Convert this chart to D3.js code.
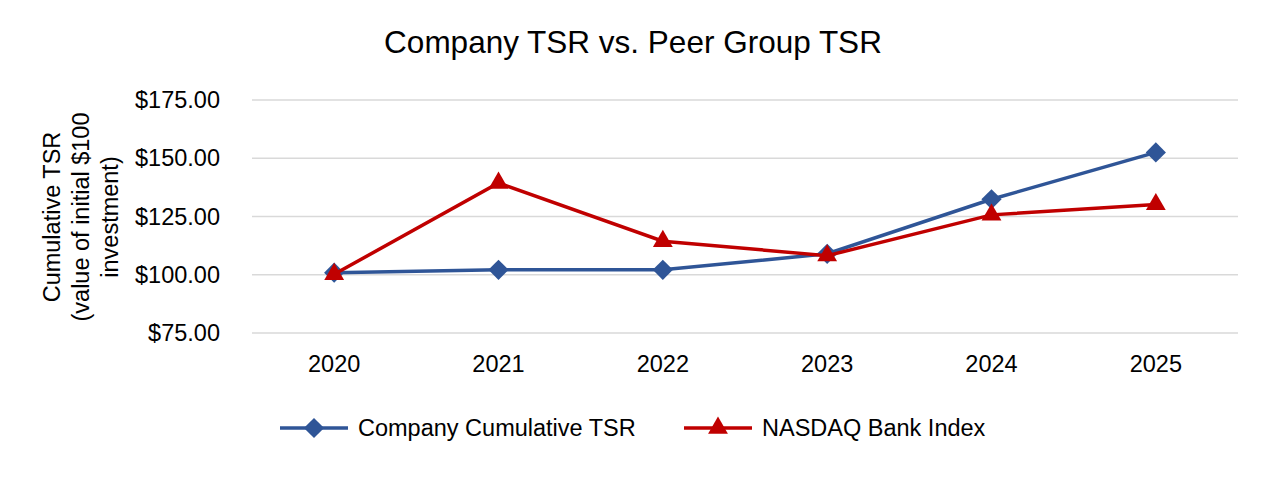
<!DOCTYPE html>
<html>
<head>
<meta charset="utf-8">
<script src="https://cdn.jsdelivr.net/npm/d3@7"></script>
<style>
  body { margin: 0; background: #fff; }
  text { font-family: "Liberation Sans", Arial, sans-serif; fill: #000; }
</style>
</head>
<body>
<div id="chart"></div>
<script>
// data
var years = ["2020", "2021", "2022", "2023", "2024", "2025"];
var companyTSR = [100.9, 102.1, 102.1, 109.0, 132.4, 152.5];
var nasdaqBank = [100.2, 139.4, 114.4, 108.2, 125.7, 130.2];
var yTicks = [75, 100, 125, 150, 175];
var seriesNames = ["Company Cumulative TSR", "NASDAQ Bank Index"];

var svgWidth = 1266;
var svgHeight = 480;

var margin = { top: 100, right: 28, bottom: 147, left: 252 };
var width = svgWidth - margin.left - margin.right;
var height = svgHeight - margin.top - margin.bottom;

var svg = d3.select("#chart")
  .append("svg")
  .attr("width", svgWidth)
  .attr("height", svgHeight);

var chart = svg.append("g")
  .attr("transform", `translate(${margin.left}, ${margin.top})`);

var x = d3.scaleBand().domain(years).range([0, width]);
var y = d3.scaleLinear().domain([75, 175]).range([height, 0]);

// gridlines
chart.append("g")
  .selectAll("line")
  .data(yTicks)
  .enter()
  .append("line")
  .attr("x1", 0)
  .attr("x2", width)
  .attr("y1", d => y(d))
  .attr("y2", d => y(d))
  .attr("stroke", "#d9d9d9")
  .attr("stroke-width", 1.5);

// y axis labels
var yAxis = d3.axisLeft(y).tickValues(yTicks).tickSize(0).tickPadding(32)
  .tickFormat(d => "$" + d3.format(".2f")(d));
chart.append("g").call(yAxis)
  .call(g => g.select(".domain").remove())
  .selectAll("text")
  .style("font-size", "23.5px")
  .style("font-family", "Liberation Sans, Arial, sans-serif");

// x axis labels
var xAxis = d3.axisBottom(x).tickSize(0).tickPadding(22);
chart.append("g")
  .attr("transform", `translate(0, ${height})`)
  .call(xAxis)
  .call(g => g.select(".domain").remove())
  .selectAll("text")
  .style("font-size", "23.5px")
  .style("font-family", "Liberation Sans, Arial, sans-serif");

var cx = d => x(d) + x.bandwidth() / 2;

function drawSeries(values, color, symbolType, size) {
  var line = d3.line()
    .x((d, i) => cx(years[i]))
    .y(d => y(d));
  chart.append("path")
    .datum(values)
    .attr("d", line)
    .attr("fill", "none")
    .attr("stroke", color)
    .attr("stroke-width", 3.5);
  chart.selectAll(null)
    .data(values)
    .enter()
    .append("path")
    .attr("d", d3.symbol().type(symbolType).size(size))
    .attr("transform", (d, i) => `translate(${cx(years[i])}, ${y(d)})`)
    .attr("fill", color);
}

drawSeries(companyTSR, "#2f5597", d3.symbolDiamond2, 260);
drawSeries(nasdaqBank, "#c00000", d3.symbolTriangle, 170);

// title
svg.append("text")
  .attr("x", 633)
  .attr("y", 53)
  .attr("text-anchor", "middle")
  .style("font-size", "31.5px")
  .text("Company TSR vs. Peer Group TSR");

// y axis title
var yTitle = svg.append("text")
  .attr("transform", `translate(0, 217) rotate(-90)`)
  .attr("text-anchor", "middle")
  .style("font-size", "23.5px");
["Cumulative TSR", "(value of initial $100", "investment)"].forEach(function(t, i) {
  yTitle.append("tspan").attr("x", 0).attr("y", 60 + i * 29).text(t);
});

// legend
var legendItems = [
  { name: seriesNames[0], color: "#2f5597", sym: d3.symbolDiamond2, size: 260, x: 280 },
  { name: seriesNames[1], color: "#c00000", sym: d3.symbolTriangle, size: 170, x: 684 }
];
var legend = svg.selectAll(".legend")
  .data(legendItems)
  .enter()
  .append("g")
  .attr("transform", d => `translate(${d.x}, 428)`);
legend.append("line")
  .attr("x1", 0).attr("x2", 68)
  .attr("stroke", d => d.color)
  .attr("stroke-width", 3.5);
legend.append("path")
  .attr("d", d => d3.symbol().type(d.sym).size(d.size)())
  .attr("transform", "translate(34, 0)")
  .attr("fill", d => d.color);
legend.append("text")
  .attr("x", 78)
  .attr("y", 8)
  .style("font-size", "23.5px")
  .text(d => d.name);
</script>
</body>
</html>
